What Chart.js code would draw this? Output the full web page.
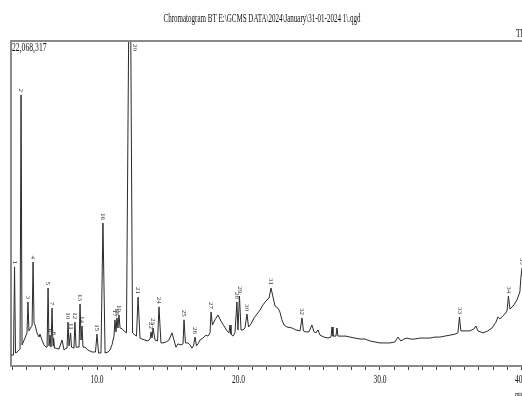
<!DOCTYPE html>
<html>
<head>
<meta charset="utf-8">
<script src="https://cdn.jsdelivr.net/npm/chart.js@4.4.0/dist/chart.umd.min.js"></script>
<style>
  html, body { margin: 0; padding: 0; background: #fff; overflow: hidden; }
</style>
</head>
<body>
<canvas id="canvas" width="522" height="396"></canvas>
<script>
// retention time (min) and relative intensity (% of 22,068,317 full scale)
var traceTime = [
  3.93, 4.10, 4.17, 4.24, 4.35, 4.49, 4.56, 4.63, 4.70, 4.91,
  5.05, 5.12, 5.19, 5.34, 5.41, 5.48, 5.55, 5.62, 5.76, 5.90,
  5.97, 6.11, 6.25, 6.40, 6.47, 6.54, 6.61, 6.68, 6.75, 6.82,
  6.89, 6.93, 7.00, 7.10, 7.31, 7.53, 7.67, 7.81, 7.88, 7.95,
  8.02, 8.13, 8.20, 8.37, 8.44, 8.52, 8.73, 8.80, 8.87, 8.94,
  9.01, 9.15, 9.36, 9.65, 9.89, 10.00, 10.11, 10.28, 10.42, 10.57,
  10.78, 10.92, 11.06, 11.20, 11.27, 11.34, 11.41, 11.48, 11.55, 11.63,
  11.77, 11.91, 12.08, 12.32, 12.51, 12.69, 12.79, 12.90, 13.04, 13.18,
  13.39, 13.60, 13.75, 13.82, 13.89, 13.96, 14.10, 14.28, 14.38, 14.52,
  14.66, 14.88, 15.09, 15.30, 15.44, 15.58, 15.72, 15.94, 16.08, 16.15,
  16.25, 16.43, 16.57, 16.71, 16.82, 16.93, 17.03, 17.14, 17.28, 17.49,
  17.70, 17.84, 17.99, 18.06, 18.16, 18.34, 18.55, 18.76, 18.98, 19.19,
  19.33, 19.40, 19.47, 19.61, 19.75, 19.89, 19.96, 20.07, 20.18, 20.32,
  20.46, 20.60, 20.71, 20.88, 21.10, 21.31, 21.52, 21.73, 21.94, 22.16,
  22.30, 22.44, 22.58, 22.79, 22.93, 23.07, 23.22, 23.43, 23.78, 24.06,
  24.35, 24.49, 24.59, 24.77, 24.98, 25.19, 25.34, 25.48, 25.62, 25.76,
  26.04, 26.33, 26.54, 26.61, 26.68, 26.89, 26.96, 27.03, 27.31, 27.60,
  27.88, 28.23, 28.59, 28.94, 29.29, 29.65, 30.00, 30.35, 30.71, 31.06,
  31.27, 31.48, 31.70, 31.91, 32.12, 32.47, 32.83, 33.18, 33.53, 33.89,
  34.24, 34.59, 34.95, 35.30, 35.51, 35.62, 35.72, 36.01, 36.36, 36.64,
  36.78, 36.93, 37.28, 37.63, 37.92, 38.20, 38.34, 38.48, 38.76, 38.98,
  39.08, 39.19, 39.47, 39.68, 39.89, 39.96, 40.04
];
var traceInt = [
  3.4, 3.4, 30.5, 4.0, 4.3, 4.9, 5.2, 83.4, 6.5, 8.6,
  10.2, 19.7, 10.8, 12.0, 12.3, 32.0, 13.2, 12.6, 10.2, 8.9,
  9.8, 8.0, 6.5, 5.8, 5.8, 24.0, 6.2, 9.5, 5.8, 17.8,
  6.2, 8.6, 5.5, 5.5, 5.2, 8.0, 4.9, 5.5, 5.5, 13.5,
  6.2, 10.2, 5.8, 5.5, 13.5, 5.8, 5.8, 19.1, 8.0, 12.3,
  5.8, 5.8, 4.9, 4.3, 4.3, 9.8, 4.0, 4.0, 44.0, 4.0,
  4.3, 4.9, 6.5, 9.2, 14.2, 10.5, 14.8, 11.7, 15.7, 11.7,
  11.4, 10.8, 10.2, 150.0, 10.2, 9.5, 9.2, 21.2, 8.6, 8.3,
  8.0, 7.7, 8.3, 10.5, 8.6, 11.7, 8.0, 7.7, 18.2, 7.1,
  7.1, 7.4, 8.0, 10.2, 8.0, 5.8, 6.8, 6.5, 6.8, 14.2,
  7.1, 7.1, 6.5, 5.5, 6.2, 8.9, 6.2, 6.8, 8.0, 8.6,
  9.5, 9.2, 10.2, 16.6, 12.6, 14.2, 15.7, 13.8, 12.3, 10.8,
  10.2, 12.6, 9.8, 9.2, 10.2, 19.7, 11.1, 21.5, 11.1, 11.1,
  11.7, 16.0, 12.0, 12.9, 14.8, 16.0, 17.2, 18.8, 20.0, 20.9,
  24.0, 21.2, 18.5, 17.8, 16.6, 14.2, 12.6, 12.0, 11.7, 11.1,
  10.8, 14.8, 10.8, 10.5, 10.5, 12.6, 10.5, 10.2, 11.1, 9.5,
  8.9, 8.6, 8.9, 12.0, 9.2, 9.2, 11.7, 9.2, 9.2, 9.2,
  8.9, 8.6, 8.3, 8.3, 7.7, 7.4, 7.1, 7.1, 7.1, 7.4,
  8.9, 7.7, 8.3, 8.6, 8.3, 8.3, 8.6, 8.6, 8.6, 8.9,
  8.9, 9.2, 9.5, 9.8, 10.2, 15.1, 10.8, 10.8, 10.8, 11.4,
  12.3, 10.8, 10.2, 10.8, 11.7, 13.5, 15.1, 14.5, 15.7, 16.9,
  21.5, 17.5, 18.8, 20.3, 22.8, 27.1, 30.2
];

// peak numbers and their retention times
var peakNo = ['1','2','3','4','5','6','7','8','10','11','12','13','14','15','16','17','18','19','20',
  '21','22','23','24','25','26','27','28','29','30','31','32','33','34','35'];
var peakTime = [4.17, 4.63, 5.12, 5.48, 6.54, 6.68, 6.82, 6.93, 7.95, 8.13, 8.44, 8.80, 8.94, 10.00, 10.42,
  11.27, 11.41, 11.55, 12.32, 12.90, 13.82, 13.96, 14.38, 16.15, 16.93, 18.06, 19.89, 20.07, 20.60,
  22.30, 24.49, 35.62, 39.08, 40.04];

var titleText = 'Chromatogram BT E:\\GCMS DATA\\2024\\January\\31-01-2024 1\\.qgd';
var maxText = '22,068,317';
var xMin = 3.92, xMax = 40.04;

var points = [];
for (let i = 0; i < traceTime.length; i++) {
  points.push({ x: traceTime[i], y: traceInt[i] });
}

var SERIF = '"Liberation Serif", "DejaVu Serif", serif';

function squeezed(ctx, text, x, y, size, sx, align) {
  ctx.save();
  ctx.font = size + 'px ' + SERIF;
  ctx.textBaseline = 'middle';
  ctx.textAlign = align;
  ctx.fillStyle = '#111';
  ctx.translate(x, y);
  ctx.scale(sx, 1);
  ctx.fillText(text, 0, 0);
  ctx.restore();
}

const extras = {
  id: 'extras',
  afterDraw(chart) {
    const ctx = chart.ctx;
    const area = chart.chartArea;
    const xs = chart.scales.x;
    const ys = chart.scales.y;

    // top frame line
    ctx.save();
    ctx.strokeStyle = '#8a8a8a';
    ctx.lineWidth = 2;
    ctx.beginPath();
    ctx.moveTo(area.left - 1, area.top);
    ctx.lineTo(chart.width, area.top);
    ctx.stroke();
    ctx.restore();

    // title
    ctx.save();
    ctx.font = '12px ' + SERIF;
    var w = ctx.measureText(titleText).width;
    ctx.restore();
    squeezed(ctx, titleText, 262, 19, 12, 197 / w, 'center');
    squeezed(ctx, 'TIC', 516, 34, 12, 0.62, 'left');
    squeezed(ctx, maxText, 12, 48, 12, 0.64, 'left');

    // x tick labels
    xs.ticks.forEach(function (t) {
      if (Math.abs(t.value % 10) < 1e-6) {
        squeezed(ctx, t.value.toFixed(1), xs.getPixelForValue(t.value), 380, 12, 0.62, 'center');
      }
    });
    squeezed(ctx, 'min', 515, 394, 7, 0.8, 'left');

    // peak numbers
    ctx.save();
    ctx.font = '7px ' + SERIF;
    ctx.fillStyle = '#333';
    ctx.textBaseline = 'middle';
    for (let i = 0; i < peakNo.length; i++) {
      let best = 0;
      for (let j = 1; j < traceTime.length; j++) {
        if (Math.abs(traceTime[j] - peakTime[i]) < Math.abs(traceTime[best] - peakTime[i])) best = j;
      }
      const v = traceInt[best];
      let px = xs.getPixelForValue(peakTime[i]);
      ctx.save();
      if (v > ys.max) {
        ctx.translate(px + 5, area.top + 3);
        ctx.rotate(Math.PI / 2);
        ctx.textAlign = 'left';
      } else {
        ctx.translate(px, ys.getPixelForValue(v) - 3);
        ctx.rotate(Math.PI / 2);
        ctx.textAlign = 'right';
      }
      ctx.fillText(peakNo[i], 0, 0);
      ctx.restore();
    }
    ctx.restore();
  }
};

const ctx = document.getElementById('canvas');

new Chart(ctx, {
  type: 'line',
  data: {
    datasets: [{
      label: 'TIC',
      data: points,
      borderColor: '#2a2a2a',
      borderWidth: 1,
      pointRadius: 0,
      tension: 0,
      fill: false
    }]
  },
  options: {
    responsive: false,
    animation: false,
    devicePixelRatio: 1,
    layout: { padding: { left: 11, top: 41, right: 0, bottom: 0 } },
    plugins: {
      legend: { display: false },
      tooltip: { enabled: false }
    },
    scales: {
      x: {
        type: 'linear',
        min: xMin,
        max: xMax,
        afterBuildTicks: function (s) {
          var t = [];
          for (let v = 4; v <= 40; v++) t.push({ value: v });
          s.ticks = t;
        },
        afterFit: function (s) {
          s.height = 30;
          s.paddingLeft = 0;
          s.paddingRight = 0;
        },
        ticks: { display: false, autoSkip: false },
        grid: { drawOnChartArea: false, drawTicks: true, tickLength: 4, color: '#444', lineWidth: 1 },
        border: { color: '#8a8a8a', width: 2 }
      },
      y: {
        min: 0,
        max: 100,
        afterFit: function (s) { s.width = 0; },
        ticks: { display: false },
        grid: { display: false },
        border: { display: true, color: '#8a8a8a', width: 2 }
      }
    }
  },
  plugins: [extras]
});
</script>
</body>
</html>
